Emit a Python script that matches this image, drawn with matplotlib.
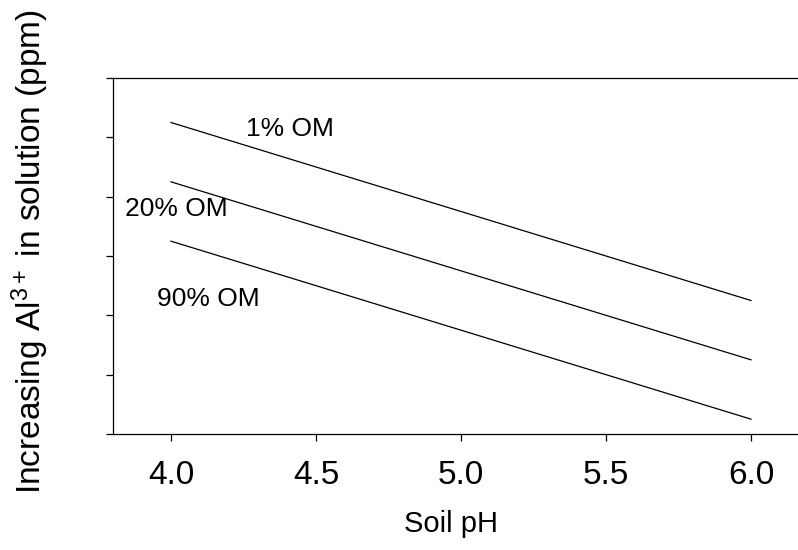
"""Al3+ in solution versus soil pH for three organic matter levels."""

import matplotlib

matplotlib.use("Agg")
import matplotlib.pyplot as plt

plt.rcParams["font.family"] = ["Liberation Sans", "DejaVu Sans"]
plt.rcParams["mathtext.fontset"] = "custom"
plt.rcParams["mathtext.rm"] = "Liberation Sans"
plt.rcParams["mathtext.it"] = "Liberation Sans"

# line end points (soil pH, relative Al3+ level)
ph = [4.0, 6.0]
om_1 = [5.25, 2.25]
om_20 = [4.25, 1.25]
om_90 = [3.25, 0.25]

x_ticks = [4.0, 4.5, 5.0, 5.5, 6.0]
x_tick_labels = ["4.0", "4.5", "5.0", "5.5", "6.0"]
y_ticks = [0, 1, 2, 3, 4, 5, 6]

labels = ["1% OM", "20% OM", "90% OM"]
label_x = [4.26, 3.84, 3.95]
label_y = [5.02, 3.67, 2.15]

W, H = 798, 550
fig = plt.figure(figsize=(W / 100, H / 100), dpi=100)
ax = fig.add_axes([113 / W, 116 / H, 696 / W, 356 / H])

for series in (om_1, om_20, om_90):
    ax.plot(ph, series, color="black", linewidth=0.9)

for text, tx, ty in zip(labels, label_x, label_y):
    ax.text(tx, ty, text, fontsize=19, ha="left", va="baseline")

ax.set_xlim(3.8, 6.2)
ax.set_ylim(0, 6)
ax.set_xticks(x_ticks)
ax.set_xticklabels(x_tick_labels)
ax.set_yticks(y_ticks)
ax.set_yticklabels([])
ax.tick_params(direction="out", length=5, width=0.9, labelsize=24, pad=14)
ax.spines["right"].set_visible(False)
for side in ("left", "bottom", "top"):
    ax.spines[side].set_linewidth(0.9)

ax.set_xlabel("Soil pH", fontsize=21)
ax.xaxis.set_label_coords((451 - 113) / 696, -(524 - 434) / 356)
ax.xaxis.label.set_verticalalignment("center")
fig.text(30 / W, 1 - 252 / H, r"Increasing Al$^{3+}$ in solution (ppm)",
         rotation=90, ha="center", va="center", fontsize=24)

fig.savefig("out.png", dpi=100, facecolor="white")
